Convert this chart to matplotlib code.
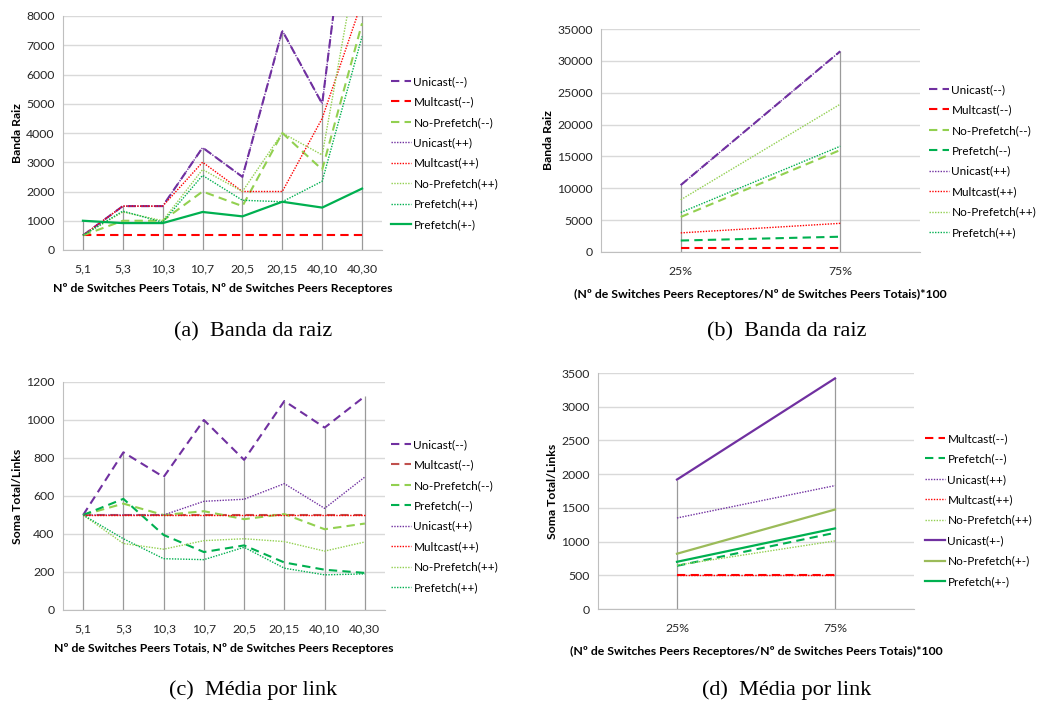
import matplotlib.pyplot as plt
import numpy as np

W, H = 1038, 704

cats_a = ["5,1", "5,3", "10,3", "10,7", "20,5", "20,15", "40,10", "40,30"]
cats_b = ["25%", "75%"]

# (a) banda da raiz
a_unicast_mm = [500, 1500, 1500, 3500, 2500, 7500, 5000, 15900]
a_multcast_mm = [500, 500, 500, 500, 500, 500, 500, 500]
a_noprefetch_mm = [500, 1000, 1000, 2000, 1500, 4000, 2750, 7750]
a_unicast_pp = [500, 1500, 1500, 3500, 2500, 7500, 5000, 15900]
a_multcast_pp = [500, 1500, 1500, 3000, 2000, 2000, 4500, 8500]
a_noprefetch_pp = [500, 1300, 1000, 2750, 2000, 4000, 3250, 10850]
a_prefetch_pp = [500, 1330, 950, 2550, 1700, 1650, 2350, 7300]
a_prefetch_pm = [1000, 920, 920, 1300, 1150, 1650, 1450, 2100]

# (b) banda da raiz, percentagem
b_unicast_mm = [10500, 31500]
b_multcast_mm = [600, 600]
b_noprefetch_mm = [5500, 16000]
b_prefetch_mm = [1800, 2400]
b_unicast_pp = [10500, 31500]
b_multcast_pp = [3000, 4500]
b_noprefetch_pp = [8200, 23200]
b_prefetch_pp = [6200, 16600]

# (c) media por link
c_unicast_mm = [500, 830, 700, 1000, 790, 1100, 960, 1125]
c_multcast_mm = [500, 500, 500, 500, 500, 500, 500, 500]
c_noprefetch_mm = [500, 560, 500, 520, 478, 505, 425, 455]
c_prefetch_mm = [500, 585, 395, 305, 340, 250, 212, 195]
c_unicast_pp = [500, 500, 500, 572, 583, 665, 535, 700]
c_multcast_pp = [500, 500, 500, 500, 500, 500, 500, 500]
c_noprefetch_pp = [500, 350, 320, 365, 375, 360, 310, 358]
c_prefetch_pp = [500, 375, 270, 265, 330, 220, 185, 190]

# (d) media por link, percentagem
d_multcast_mm = [500, 500]
d_prefetch_mm = [640, 1130]
d_unicast_pp = [1350, 1830]
d_multcast_pp = [500, 500]
d_noprefetch_pp = [650, 1010]
d_unicast_pm = [1920, 3420]
d_noprefetch_pm = [820, 1475]
d_prefetch_pm = [700, 1195]

PURPLE = "#7030A0"
RED = "#FF0000"
DARKRED = "#C0504D"
LGREEN = "#92D050"
GREEN = "#00B050"
OLIVE = "#9BBB59"

DASH = dict(linestyle=(0, (4, 2.5)), linewidth=1.5)
DOT = dict(linestyle=(0, (1, 1)), linewidth=1.0)
SOLID = dict(linestyle="-", linewidth=1.6)

FS = 8.8
plt.rcParams["font.family"] = ["Lato", "DejaVu Sans"]
plt.rcParams["font.size"] = FS

fig = plt.figure(figsize=(W / 100, H / 100), dpi=100)


def make_axes(left, right, top, bottom):
    return fig.add_axes([left / W, 1 - bottom / H, (right - left) / W, (bottom - top) / H])


def style(ax, cats, ymax, ystep, series, ylabel, xlabel, leg_xy, xlabel_pad):
    x = np.arange(len(cats))
    top = np.max([s[0] for s in series], axis=0)
    ax.vlines(x, 0, top, color="#9A9A9A", linewidth=0.9, zorder=1)
    for vals, lab, col, st in series:
        ax.plot(x, vals, color=col, label=lab, zorder=3, **st)
    ax.set_xlim(-0.5, len(cats) - 0.5)
    ax.set_ylim(0, ymax)
    ax.set_yticks(np.arange(0, ymax + 1, ystep))
    ax.set_xticks(x)
    ax.set_xticklabels(cats)
    ax.grid(axis="y", color="#D9D9D9", linewidth=1.0, zorder=0)
    ax.set_axisbelow(True)
    for s in ["top", "right"]:
        ax.spines[s].set_visible(False)
    for s in ["left", "bottom"]:
        ax.spines[s].set_color("#BFBFBF")
    ax.tick_params(axis="y", length=0, pad=6, colors="#262626")
    ax.tick_params(axis="x", length=0, pad=10, colors="#262626")
    ax.set_ylabel(ylabel, fontweight="bold", fontsize=FS, labelpad=2)
    ax.set_xlabel(xlabel, fontweight="bold", fontsize=FS, labelpad=xlabel_pad)
    ax.legend(loc="upper left", bbox_to_anchor=(leg_xy[0] / W, 1 - leg_xy[1] / H),
              bbox_transform=fig.transFigure, frameon=False, handlelength=1.7,
              handletextpad=0.2, labelspacing=0.8, fontsize=8.5,
              borderpad=0, borderaxespad=0)


ax1 = make_axes(63, 382, 16, 250)
style(ax1, cats_a, 8000, 1000, [
    (a_unicast_mm, "Unicast(--)", PURPLE, DASH),
    (a_multcast_mm, "Multcast(--)", RED, DASH),
    (a_noprefetch_mm, "No-Prefetch(--)", LGREEN, DASH),
    (a_unicast_pp, "Unicast(++)", PURPLE, DOT),
    (a_multcast_pp, "Multcast(++)", RED, DOT),
    (a_noprefetch_pp, "No-Prefetch(++)", LGREEN, DOT),
    (a_prefetch_pp, "Prefetch(++)", GREEN, DOT),
    (a_prefetch_pm, "Prefetch(+-)", GREEN, SOLID),
], "Banda Raiz", "Nº de Switches Peers Totais, Nº de Switches Peers Receptores", (391, 76), 6)

ax2 = make_axes(601, 920, 29, 252)
style(ax2, cats_b, 35000, 5000, [
    (b_unicast_mm, "Unicast(--)", PURPLE, DASH),
    (b_multcast_mm, "Multcast(--)", RED, DASH),
    (b_noprefetch_mm, "No-Prefetch(--)", LGREEN, DASH),
    (b_prefetch_mm, "Prefetch(--)", GREEN, DASH),
    (b_unicast_pp, "Unicast(++)", PURPLE, DOT),
    (b_multcast_pp, "Multcast(++)", RED, DOT),
    (b_noprefetch_pp, "No-Prefetch(++)", LGREEN, DOT),
    (b_prefetch_pp, "Prefetch(++)", GREEN, DOT),
], "Banda Raiz", "(Nº de Switches Peers Receptores/Nº de Switches Peers Totais)*100", (929, 84), 9)

ax3 = make_axes(63, 385, 382, 610)
style(ax3, cats_a, 1200, 200, [
    (c_unicast_mm, "Unicast(--)", PURPLE, DASH),
    (c_multcast_mm, "Multcast(--)", DARKRED, DASH),
    (c_noprefetch_mm, "No-Prefetch(--)", LGREEN, DASH),
    (c_prefetch_mm, "Prefetch(--)", GREEN, DASH),
    (c_unicast_pp, "Unicast(++)", PURPLE, DOT),
    (c_multcast_pp, "Multcast(++)", RED, DOT),
    (c_noprefetch_pp, "No-Prefetch(++)", LGREEN, DOT),
    (c_prefetch_pp, "Prefetch(++)", GREEN, DOT),
], "Soma Total/Links", "Nº de Switches Peers Totais, Nº de Switches Peers Receptores", (391, 439), 6)

ax4 = make_axes(598, 914, 373, 609)
style(ax4, cats_b, 3500, 500, [
    (d_multcast_mm, "Multcast(--)", RED, DASH),
    (d_prefetch_mm, "Prefetch(--)", GREEN, DASH),
    (d_unicast_pp, "Unicast(++)", PURPLE, DOT),
    (d_multcast_pp, "Multcast(++)", RED, DOT),
    (d_noprefetch_pp, "No-Prefetch(++)", LGREEN, DOT),
    (d_unicast_pm, "Unicast(+-)", PURPLE, SOLID),
    (d_noprefetch_pm, "No-Prefetch(+-)", OLIVE, SOLID),
    (d_prefetch_pm, "Prefetch(+-)", GREEN, SOLID),
], "Soma Total/Links", "(Nº de Switches Peers Receptores/Nº de Switches Peers Totais)*100", (925, 433), 9)

caps = [("(a)  Banda da raiz", 253, 332), ("(b)  Banda da raiz", 787, 332),
        ("(c)  Média por link", 253, 690), ("(d)  Média por link", 787, 690)]
for txt, cx, cy in caps:
    fig.text(cx / W, 1 - cy / H, txt, ha="center", va="center",
             family=["Liberation Serif", "DejaVu Serif"], fontsize=16)

fig.savefig("out.png", dpi=100)
